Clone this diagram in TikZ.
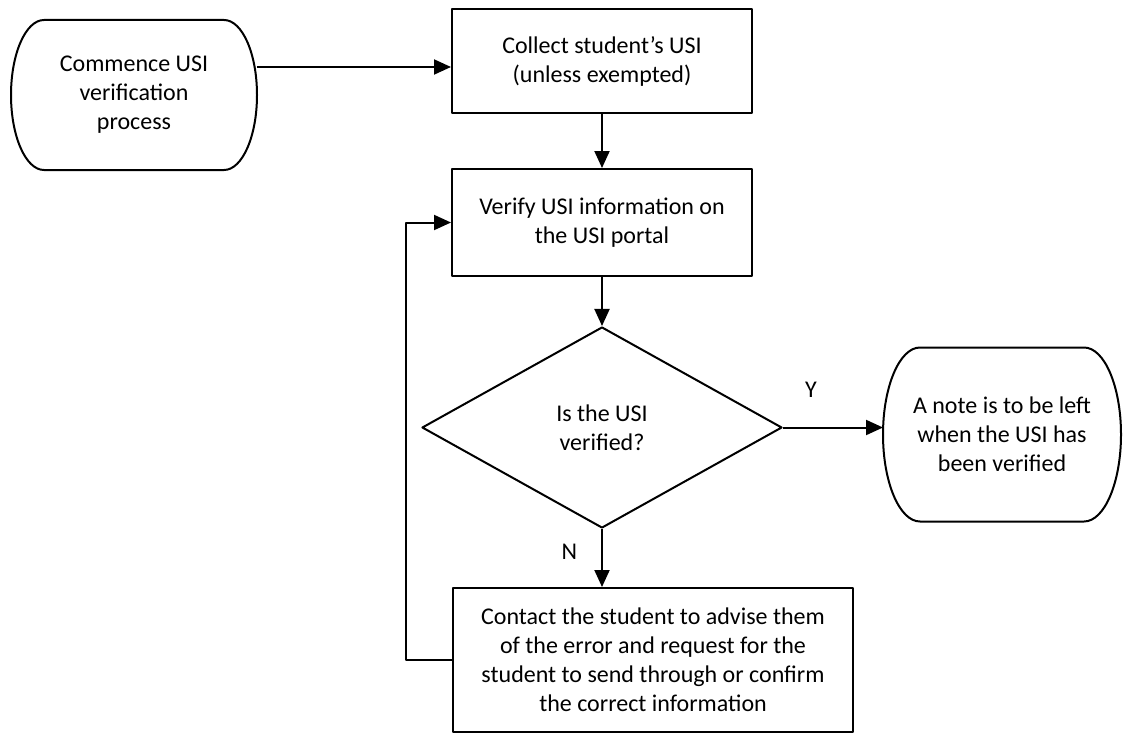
\documentclass[tikz,border=0pt]{standalone}
\usepackage{fontspec}
\setmainfont{Carlito}
\usetikzlibrary{shapes.geometric,arrows.meta}
\tikzset{every node/.style={font=\fontsize{24}{29}\selectfont}}

\begin{document}
\begin{tikzpicture}[x=1pt,y=1pt,line width=2pt,line join=round,
    box/.style={draw,rectangle,align=center,inner sep=0pt},
    term/.style={rectangle,align=center,inner sep=0pt,outer sep=0pt},
    arr/.style={-{Triangle[length=17pt,width=15pt]}},
    lbl/.style={inner sep=0pt}]
    \useasboundingbox (0,0) rectangle (1123,-733);
    \node[term,minimum width=246pt,minimum height=150pt] (start) at (134,-95) {Commence USI\\verification\\process};
    \node[box,minimum width=300pt,minimum height=104pt] (collect) at (602,-61) {Collect student’s USI\\(unless exempted)};
    \node[box,minimum width=300pt,minimum height=107pt] (verify) at (602,-222.5) {Verify USI information on\\the USI portal};
    \node[draw,diamond,align=center,inner sep=0pt,minimum width=360pt,minimum height=201pt] (check) at (602,-427.5) {Is the USI\\verified?};
    \node[term,minimum width=238pt,minimum height=174pt] (note) at (1002,-434.5) {A note is to be left\\when the USI has\\been verified};
    \node[box,minimum width=400pt,minimum height=144pt] (contact) at (653,-660) {Contact the student to advise them\\of the error and request for the\\student to send through or confirm\\the correct information};
    \foreach \n/\a/\b in {start/33/75,note/37/87}{
        \draw ([xshift=\a pt]\n.north west) -- ([xshift=-\a pt]\n.north east)
            arc[start angle=90,end angle=-90,x radius=\a pt,y radius=\b pt]
            -- ([xshift=\a pt]\n.south west)
            arc[start angle=270,end angle=90,x radius=\a pt,y radius=\b pt] -- cycle;
    }
    \coordinate (s1) at ([yshift=28pt]start.east);
    \draw[arr] (s1) -- (s1 -| collect.west);
    \draw[arr] (collect) -- (verify);
    \draw[arr] (verify) -- (check);
    \draw[arr] (check.east) -- (check.east -| note.west) node[lbl,pos=0.28,above=29pt]{Y};
    \draw[arr] (check.south) -- (check.south |- contact.north) node[lbl,pos=0.4,left=24pt]{N};
    \draw[arr] (contact.west) -- ++(-46,0) |- (verify.west);
\end{tikzpicture}
\end{document}
